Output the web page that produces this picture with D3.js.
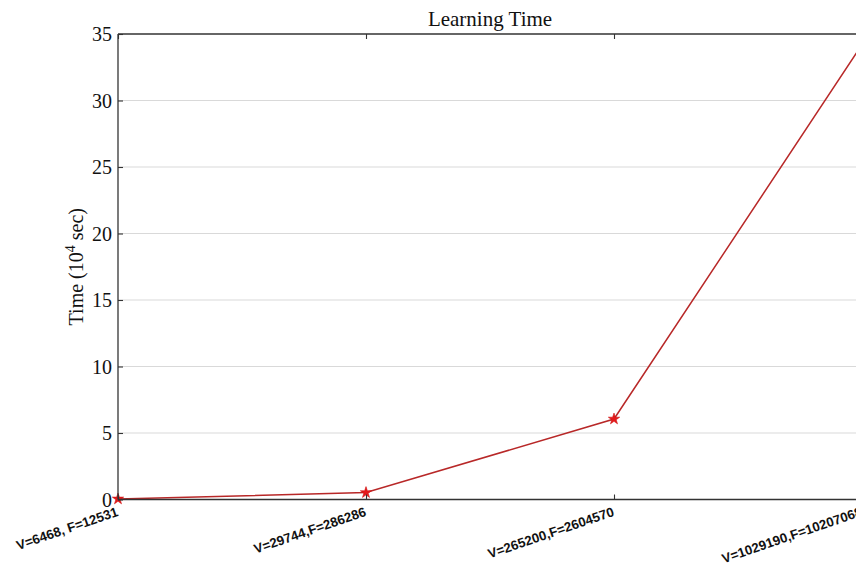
<!DOCTYPE html>
<html>
<head>
<meta charset="utf-8">
<script src="https://cdn.jsdelivr.net/npm/d3@7"></script>
<style>
  body { margin: 0; background: #fff; }
  svg { display: block; }
</style>
</head>
<body>
<svg id="chart" width="856" height="566"></svg>
<script>
// data
const categories = ["V=6468, F=12531", "V=29744,F=286286", "V=265200,F=2604570", "V=1029190,F=10207068"]
const times = [0.04, 0.52, 6.05, 34.2]
const yTicks = [0, 5, 10, 15, 20, 25, 30, 35]

const svg = d3.select("#chart")
const plotLeft = 118, plotRight = 862, plotTop = 34, plotBottom = 499.5

const x = d3.scalePoint().domain(categories).range([plotLeft, plotRight])
const y = d3.scaleLinear().domain([0, 35]).range([plotBottom, plotTop])

// grid
svg.append("g").selectAll("line")
    .data(yTicks.filter(d => d > 0 && d < 35))
    .join("line")
    .attr("x1", plotLeft).attr("x2", plotRight)
    .attr("y1", d => y(d)).attr("y2", d => y(d))
    .attr("stroke", "#d9d9d9")
    .attr("stroke-width", 1)

// line + markers
const line = d3.line().x((d, i) => x(categories[i])).y(d => y(d))
svg.append("path")
    .datum(times)
    .attr("d", line)
    .attr("fill", "none")
    .attr("stroke", "#b82828")
    .attr("stroke-width", 1.5)

const star = d3.symbol().type(d3.symbolStar).size(40)
svg.append("g").selectAll("path")
    .data(times)
    .join("path")
    .attr("d", star)
    .attr("transform", (d, i) => "translate(" + x(categories[i]) + "," + y(d) + ")")
    .attr("fill", "#e41a1c")
    .attr("stroke", "#d01010")
    .attr("stroke-width", 0.6)

// axes (matlab style: ticks point inward, box on)
const axLeft = svg.append("g").attr("transform", "translate(" + plotLeft + ",0)")
    .call(d3.axisRight(y).tickValues(yTicks).tickSize(5).tickFormat(""))
const axRight = svg.append("g").attr("transform", "translate(" + plotRight + ",0)")
    .call(d3.axisLeft(y).tickValues(yTicks).tickSize(5).tickFormat(""))
const axBottom = svg.append("g").attr("transform", "translate(0," + plotBottom + ")")
    .call(d3.axisTop(x).tickSize(5).tickFormat(""))
const axTop = svg.append("g").attr("transform", "translate(0," + plotTop + ")")
    .call(d3.axisBottom(x).tickSize(5).tickFormat(""))

svg.selectAll(".domain").attr("stroke", "#333").attr("stroke-width", 1.3)
svg.selectAll(".tick line").attr("stroke", "#333").attr("stroke-width", 1.1)
// plain box edges, no end caps
axLeft.select(".domain").attr("d", "M0," + plotTop + "V" + plotBottom)
axRight.select(".domain").attr("d", "M0," + plotTop + "V" + plotBottom)
axBottom.select(".domain").attr("d", "M" + plotLeft + ",0H" + plotRight)
axTop.select(".domain").attr("d", "M" + plotLeft + ",0H" + plotRight)

// y tick labels
svg.append("g").selectAll("text")
    .data(yTicks)
    .join("text")
    .attr("x", plotLeft - 6)
    .attr("y", d => y(d))
    .attr("dy", "0.35em")
    .attr("text-anchor", "end")
    .attr("font-family", "Liberation Serif, Times New Roman, serif")
    .attr("font-size", 20)
    .attr("fill", "#111")
    .text(d => d)

// x tick labels, rotated (the last one runs off the right edge, as in the original)
svg.append("g").selectAll("text")
    .data(categories)
    .join("text")
    .attr("transform", d => "translate(" + (x(d) + 1) + "," + (plotBottom + 16) + ") rotate(-19)")
    .attr("text-anchor", "end")
    .attr("font-family", "Liberation Sans, Arial, sans-serif")
    .attr("font-weight", "bold")
    .attr("font-size", 13.3)
    .attr("fill", "#111")
    .text(d => d)

// title
svg.append("text")
    .attr("x", (plotLeft + plotRight) / 2)
    .attr("y", 26)
    .attr("text-anchor", "middle")
    .attr("font-family", "Liberation Serif, Times New Roman, serif")
    .attr("font-size", 21)
    .attr("fill", "#111")
    .text("Learning Time")

// y label with superscript
const yl = svg.append("text")
    .attr("transform", "translate(83," + ((plotTop + plotBottom) / 2) + ") rotate(-90)")
    .attr("text-anchor", "middle")
    .attr("font-family", "Liberation Serif, Times New Roman, serif")
    .attr("font-size", 20)
    .attr("fill", "#111")
yl.append("tspan").text("Time (10")
yl.append("tspan").attr("dy", -8).attr("font-size", 14).text("4")
yl.append("tspan").attr("dy", 8).text(" sec)")
</script>
</body>
</html>
